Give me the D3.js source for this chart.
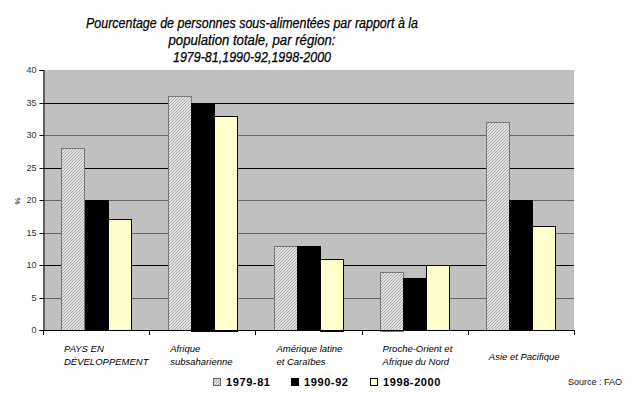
<!DOCTYPE html>
<html><head><meta charset="utf-8">
<script src="https://cdn.jsdelivr.net/npm/d3@7"></script>
<style>body{margin:0;background:#fff}svg{display:block}</style>
</head><body>
<script>
const categories = [
  ["PAYS EN", "DÉVELOPPEMENT"],
  ["Afrique", "subsaharienne"],
  ["Amérique latine", "et Caraïbes"],
  ["Proche-Orient et", "Afrique du Nord"],
  ["Asie et Pacifique"]
];
const series = ["1979-81", "1990-92", "1998-2000"];
const v1979 = [28, 36, 13, 9, 32];
const v1990 = [20, 35, 13, 8, 20];
const v1998 = [17, 33, 11, 10, 16];
const yTicks = [0, 5, 10, 15, 20, 25, 30, 35, 40];
const titleLines = ["Pourcentage de personnes sous-alimentées par rapport à la", "population totale, par région:", "1979-81,1990-92,1998-2000"];

const W = 642, H = 394;
const m = {l: 43, r: 68, t: 70, b: 64};
const svg = d3.select("body").append("svg").attr("width", W).attr("height", H);
const defs = svg.append("defs");
const pat = defs.append("pattern").attr("id", "hatch").attr("patternUnits", "userSpaceOnUse")
  .attr("width", 3).attr("height", 3);
pat.append("rect").attr("width", 3).attr("height", 3).attr("fill", "#e2e2e2");
pat.append("path").attr("d", "M-1,1 l2,-2 M0,3 l3,-3 M2,4 l2,-2").attr("stroke", "#9a9a9a").attr("stroke-width", 0.8);

const x0 = d3.scaleBand().domain(d3.range(categories.length)).range([m.l, W - m.r]);
const x1 = d3.scaleBand().domain(series).range([0, x0.bandwidth()]).paddingInner(0).paddingOuter(0.8);
const y = d3.scaleLinear().domain([0, 40]).range([H - m.b, m.t]);

const FONT = "Liberation Sans, Arial, sans-serif";

// plot bg
svg.append("rect").attr("x", m.l).attr("y", m.t).attr("width", W - m.r - m.l).attr("height", H - m.b - m.t).attr("fill", "#c0c0c0");

// gridlines
const darkGrid = [10, 25, 35];
svg.append("g").selectAll("line").data(yTicks.filter(d => d > 0 && d < 40)).join("line")
  .attr("x1", m.l).attr("x2", W - m.r).attr("y1", d => Math.round(y(d)) + 0.5).attr("y2", d => Math.round(y(d)) + 0.5)
  .attr("stroke", d => darkGrid.includes(d) ? "#000" : "#666").attr("stroke-width", 1);

// bars
const fills = {"1979-81": "url(#hatch)", "1990-92": "#000", "1998-2000": "#ffffcc"};
const strokes = {"1979-81": "#777", "1990-92": "#000", "1998-2000": "#000"};
const vals = {"1979-81": v1979, "1990-92": v1990, "1998-2000": v1998};
const g = svg.append("g");
categories.forEach((c, i) => {
  series.forEach(s => {
    const v = vals[s][i];
    g.append("rect")
      .attr("x", Math.round(x0(i) + x1(s)) + 0.5)
      .attr("y", Math.round(y(v)) + 0.5)
      .attr("width", Math.round(x1.bandwidth()))
      .attr("height", Math.round(y(0) - y(v)))
      .attr("fill", fills[s]).attr("stroke", strokes[s]).attr("stroke-width", 1);
  });
});

// y axis
const ya = svg.append("g").attr("transform", `translate(${m.l + 0.5},0)`)
  .call(d3.axisLeft(y).tickValues(yTicks).tickSize(4).tickPadding(3));
ya.select(".domain").attr("stroke", "#000");
ya.selectAll(".tick line").attr("stroke", "#000");
ya.selectAll(".tick text").attr("font-family", FONT).attr("font-size", 9).attr("fill", "#333");
ya.selectAll(".tick").attr("transform", d => `translate(0,${Math.round(y(d)) + 0.5})`);

// x axis line and ticks
const xa = svg.append("g");
xa.append("line").attr("x1", m.l).attr("x2", W - m.r + 1).attr("y1", y(0) + 0.5).attr("y2", y(0) + 0.5).attr("stroke", "#000");
xa.selectAll("line.t").data(d3.range(categories.length + 1)).join("line").attr("class", "t")
  .attr("x1", i => Math.round(i < categories.length ? x0(i) : W - m.r) + 0.5)
  .attr("x2", i => Math.round(i < categories.length ? x0(i) : W - m.r) + 0.5)
  .attr("y1", y(0)).attr("y2", y(0) + 5).attr("stroke", "#000");

// category labels
categories.forEach((lines, i) => {
  const t = svg.append("text").attr("font-family", FONT).attr("font-size", 9.5)
    .attr("font-style", "italic").attr("fill", "#000");
  const baseY = lines.length === 1 ? 360 : 352;
  lines.forEach((ln, k) => {
    t.append("tspan").attr("x", x0(i) + 21).attr("y", baseY + k * 12.5).text(ln);
  });
});

// % label
svg.append("text").attr("transform", "translate(15,201) rotate(90)").attr("text-anchor", "middle")
  .attr("font-family", FONT).attr("font-size", 8).text("%");

// title
const titleW = [332, 167, 158];
titleLines.forEach((ln, k) => {
  svg.append("text").attr("x", 252).attr("y", 28 + k * 17).attr("text-anchor", "middle")
    .attr("font-family", FONT).attr("font-size", 14.5).attr("font-style", "italic")
    .attr("stroke", "#000").attr("stroke-width", 0.25)
    .attr("textLength", titleW[k]).attr("lengthAdjust", "spacingAndGlyphs")
    .text(ln);
});

// legend
const legX = [213, 291, 370];
series.forEach((s, k) => {
  svg.append("rect").attr("x", legX[k] + 0.5).attr("y", 378.5).attr("width", 7).attr("height", 7)
    .attr("fill", fills[s]).attr("stroke", strokes[s] === "#777" ? "#666" : "#000");
  svg.append("text").attr("x", legX[k] + 13).attr("y", 386)
    .attr("font-family", FONT).attr("font-size", 11).attr("font-weight", "bold")
    .attr("letter-spacing", 0.6).text(s);
});

svg.append("text").attr("x", 622).attr("y", 385).attr("text-anchor", "end")
  .attr("font-family", FONT).attr("font-size", 9).attr("fill", "#111").text("Source : FAO");
</script>
</body></html>
